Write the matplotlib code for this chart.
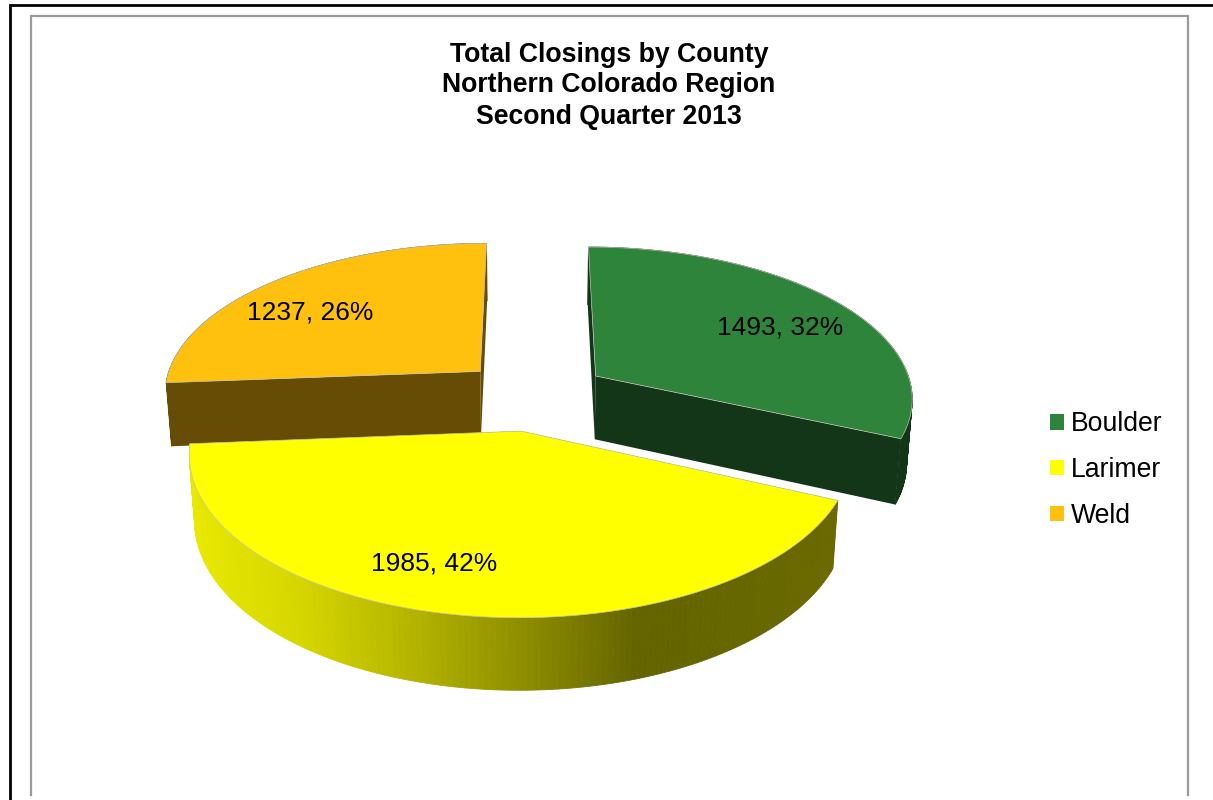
import numpy as np
import matplotlib
matplotlib.use("Agg")
import matplotlib.pyplot as plt
from matplotlib.patches import Polygon, Patch
from matplotlib.colors import to_rgb

# Closings per county
counties = ["Boulder", "Larimer", "Weld"]
closings = [1493, 1985, 1237]
percents = [32, 42, 26]

top_colors = ["#2e843a", "#ffff00", "#ffc00e"]
side_colors = ["#133619", "#666600", "#664c05"]

plt.rcParams["font.family"] = ["Liberation Sans", "DejaVu Sans"]

# Pie layout in pixels, with a simple perspective camera
CX, CY = 534, 395
RX, RY = 318, 151
DEPTH = 65
PERSP = 0.134
DEPTH_PERSP = 0.015
EXPLODE = 0.235


def project(x, y, z=0.0):
    w = 1 + PERSP * y + DEPTH_PERSP * z
    return CX + RX * x / w, CY - RY * y / w + DEPTH * z / w


def arc_xy(theta, apex):
    return apex[0] + np.sin(theta), apex[1] + np.cos(theta)


def quad(ax, p0, p1, p2, p3, color, edge="none", zorder=2):
    ax.add_patch(Polygon([p0, p1, p2, p3], closed=True, facecolor=color, edgecolor=edge,
                         linewidth=0.6, zorder=zorder))


def larimer_shade(px):
    # side of the big slice darkens from left to right
    stops_x = [195, 300, 420, 530, 640, 840]
    stops_c = [(232, 232, 0), (214, 214, 0), (178, 178, 0), (140, 140, 0), (100, 100, 0), (106, 106, 0)]
    return tuple(np.interp(px, stops_x, [c[i] for c in stops_c]) / 255 for i in range(3))


fig = plt.figure(figsize=(12.13, 8), dpi=100)
ax = fig.add_axes([0, 0, 1, 1])
ax.set_xlim(0, 1213)
ax.set_ylim(800, 0)
ax.axis("off")

# Page frame and chart frame
ax.plot([10, 10, 1213], [800, 5, 5], color="black", lw=2, solid_joinstyle="miter")
ax.plot([31, 31, 1188, 1188], [795, 16, 16, 795], color="#9a9a9a", lw=1.6, solid_joinstyle="miter")

# Slice angles, clockwise from twelve o'clock
fractions = np.array(closings) / sum(closings)
edges = np.concatenate([[0], np.cumsum(fractions)]) * 2 * np.pi

# Back slices first so Larimer sits on top
for i in [2, 0, 1]:
    t0, t1 = edges[i], edges[i + 1]
    mid = (t0 + t1) / 2
    apex = (EXPLODE * np.sin(mid), EXPLODE * np.cos(mid))
    thetas = np.linspace(t0, t1, 160)
    xs, ys = arc_xy(thetas, apex)

    # Cut faces of the slice
    for t in (t0, t1):
        rx, ry = arc_xy(t, apex)
        quad(ax, project(*apex), project(rx, ry), project(rx, ry, 1), project(*apex, 1), side_colors[i])

    # Outer wall
    for j in range(len(thetas) - 1):
        a = project(xs[j], ys[j])
        b = project(xs[j + 1], ys[j + 1])
        c = project(xs[j + 1], ys[j + 1], 1)
        d = project(xs[j], ys[j], 1)
        color = larimer_shade(a[0]) if counties[i] == "Larimer" else to_rgb(side_colors[i])
        quad(ax, a, b, c, d, color, edge=color)

    # Top face
    top = [project(*apex)] + [project(x, y) for x, y in zip(xs, ys)]
    ax.add_patch(Polygon(top, closed=True, facecolor=top_colors[i], edgecolor="#c4c4b4",
                         linewidth=0.5, zorder=3))

# Data labels
label_pos = [(780, 327), (434, 563.5), (310, 312.5)]
for county, value, pct, pos in zip(counties, closings, percents, label_pos):
    ax.text(pos[0], pos[1], f"{value}, {pct}%", fontsize=19, ha="center", va="center", color="black", zorder=5)

ax.text(609, 85.5, "Total Closings by County\nNorthern Colorado Region\nSecond Quarter 2013", fontsize=19.15,
        fontweight="bold", ha="center", va="center", linespacing=1.25, zorder=5)

handles = [Patch(facecolor=c, edgecolor="none") for c in top_colors]
ax.legend(handles, counties, loc="center left", bbox_to_anchor=(1050, 470), bbox_transform=ax.transData,
          frameon=False, fontsize=19.2, handlelength=0.53, handleheight=0.53, handletextpad=0.24,
          labelspacing=0.745, borderpad=0, borderaxespad=0)

fig.savefig("out.png", dpi=100)
